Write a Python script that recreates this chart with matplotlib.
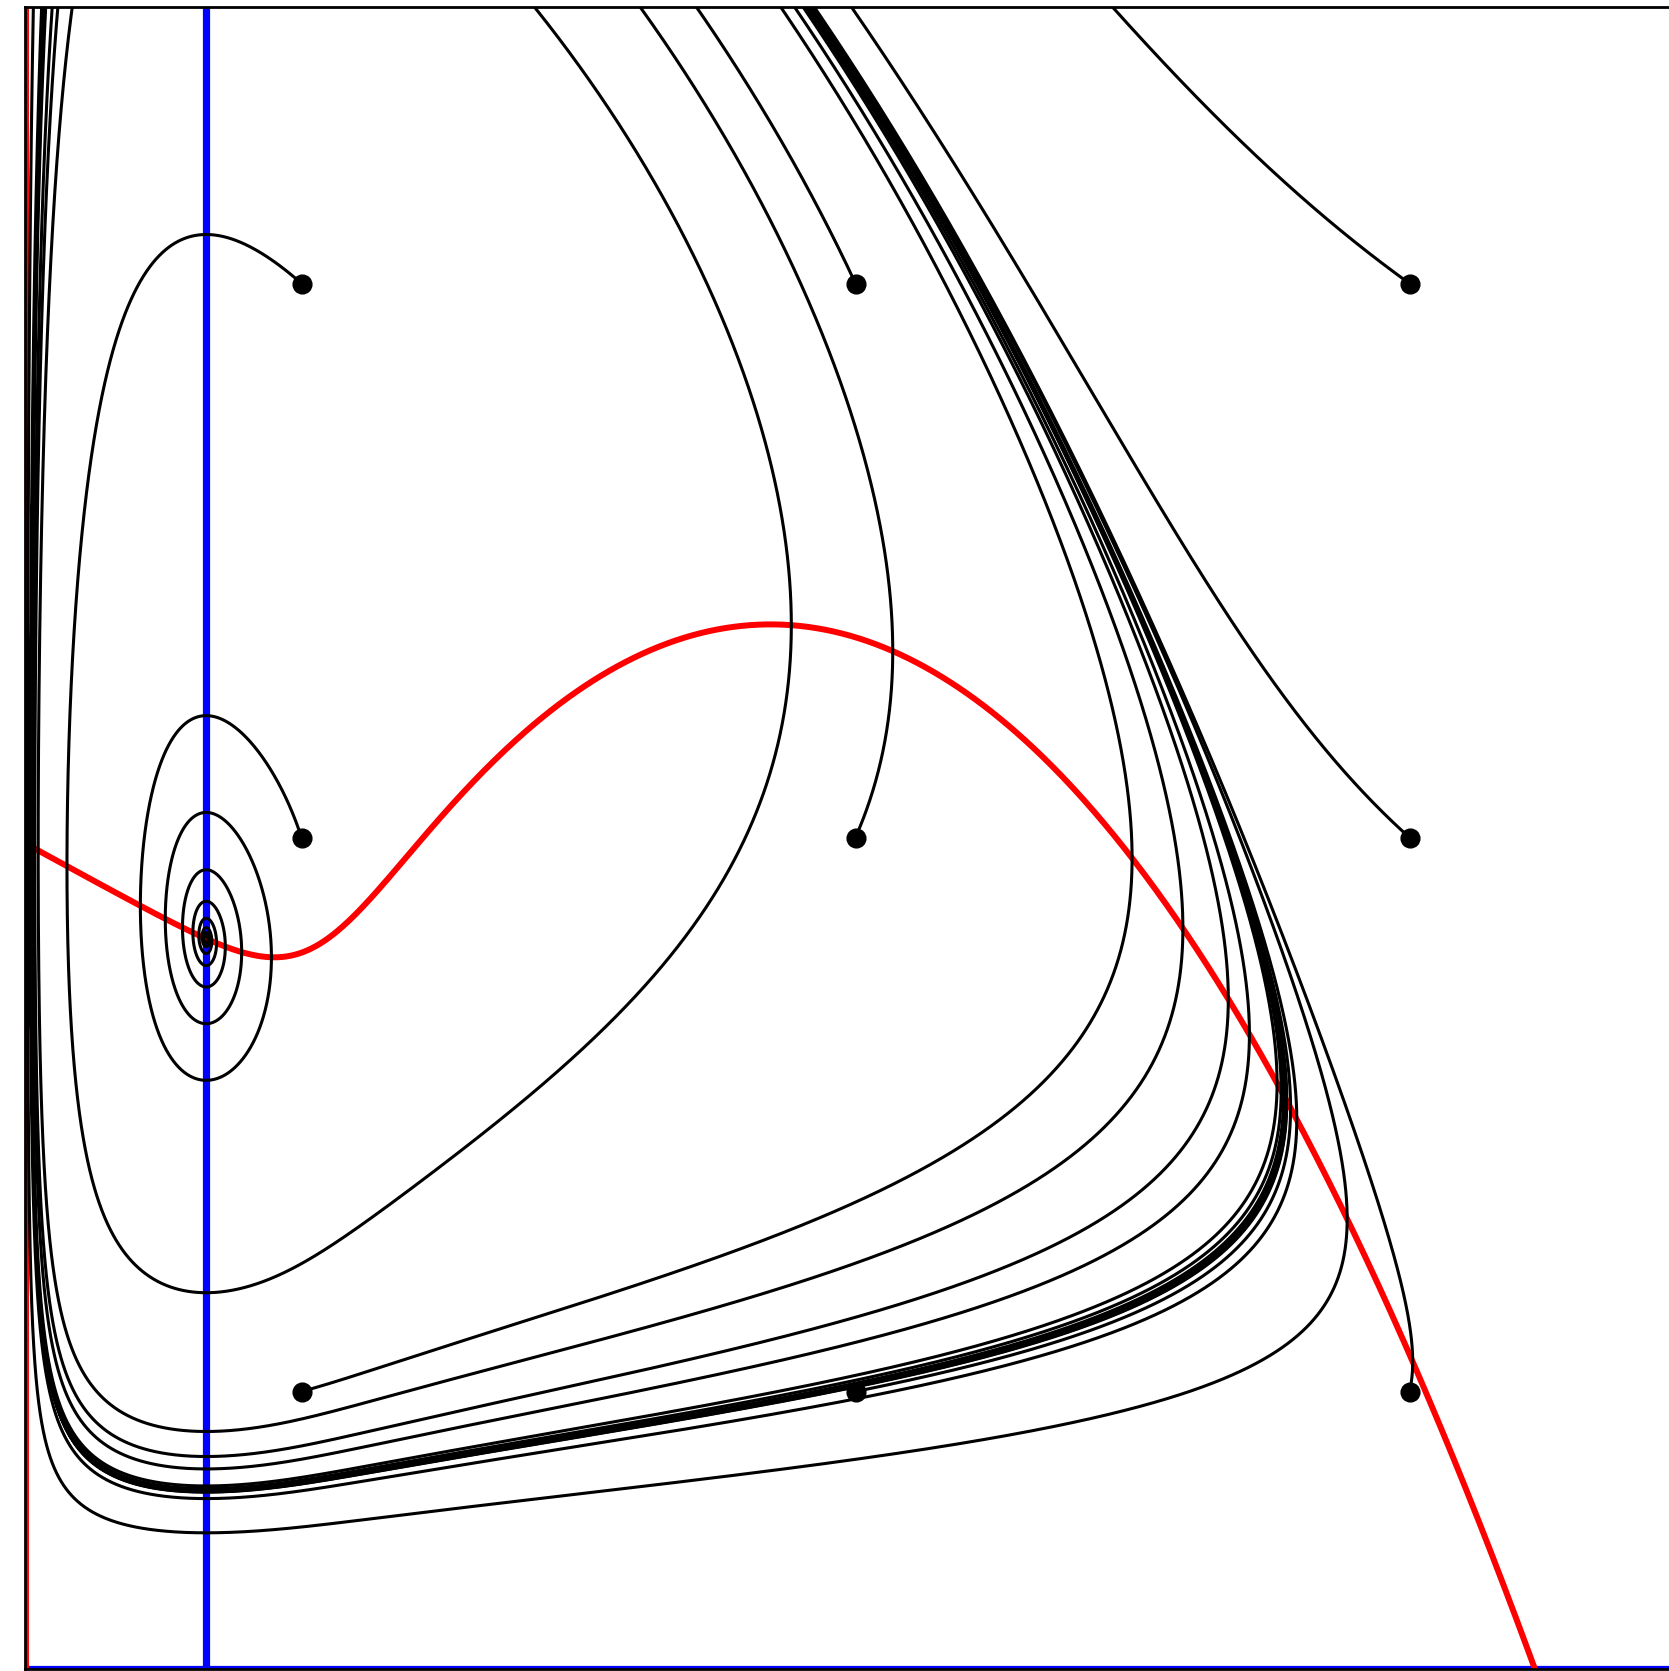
import numpy as np
import matplotlib
matplotlib.use("Agg")
import matplotlib.pyplot as plt

# ---- values ----
# prey nullcline (red): y = (1 - x/K) * q(x); q is flat near q0 and then rises with slope q_slope
K_capacity = 2.726
q0 = 1.49
q_slope = 2.7
q_knee = 0.519
q_soft = 0.062
# predator nullcline (blue vertical line)
x_star = 0.328
# predator conversion rate (sets the trajectory slopes)
e_conv = 1.39

# starting points of the trajectories (black dots)
x_start = [0.5, 1.5, 2.5]
y_start = [0.5, 1.5, 2.5]
t_end = 90.0

x_lim = (0, 3)
y_lim = (0, 3)


def q(x):
    z = (x - q_knee) / q_soft
    return q0 + q_slope * q_soft * np.logaddexp(0.0, z)


def g(x):
    return (1 - x / K_capacity) * q(x)


def p(x):
    return x / q(x)


p_star = p(x_star)


def rhs(u, v):
    x = np.exp(u)
    y = np.exp(v)
    du = (g(x) - y) / q(x)
    dv = e_conv * (p(x) - p_star)
    return du, dv


X0, Y0 = np.meshgrid(x_start, y_start)
X0 = X0.ravel()
Y0 = Y0.ravel()

dt = 0.005
n = int(t_end / dt)
u = np.log(X0)
v = np.log(Y0)
U = np.empty((n + 1, u.size))
V = np.empty((n + 1, u.size))
U[0] = u
V[0] = v
for i in range(n):
    k1u, k1v = rhs(u, v)
    k2u, k2v = rhs(u + 0.5 * dt * k1u, v + 0.5 * dt * k1v)
    k3u, k3v = rhs(u + 0.5 * dt * k2u, v + 0.5 * dt * k2v)
    k4u, k4v = rhs(u + dt * k3u, v + dt * k3v)
    u = u + dt / 6 * (k1u + 2 * k2u + 2 * k3u + k4u)
    v = v + dt / 6 * (k1v + 2 * k2v + 2 * k3v + k4v)
    U[i + 1] = u
    V[i + 1] = v
XT = np.exp(U)
YT = np.exp(V)

W, H = 1669, 1671
fig = plt.figure(figsize=(W / 100, H / 100), dpi=100)
unit = 554.0
ax = fig.add_axes([24.5 / W, 2.5 / H, 3 * unit / W, 3 * unit / H])
ax.set_xlim(*x_lim)
ax.set_ylim(*y_lim)
ax.set_xticks([])
ax.set_yticks([])
for s in ax.spines.values():
    s.set_linewidth(2)
    s.set_color("black")

# nullclines
ax.axvline(x_star, color="blue", lw=5.2, zorder=1)
ax.axhline(0, color="blue", lw=5.2, zorder=1)
xs = np.linspace(0, x_lim[1], 800)
ax.plot(xs, g(xs), color="red", lw=4.3, zorder=2)
ax.axvline(0, color="red", lw=5, zorder=2)

# trajectories
for j in range(XT.shape[1]):
    ax.plot(XT[:, j], YT[:, j], color="black", lw=2.2, zorder=3)
ax.plot(X0, Y0, "o", color="black", ms=13.5, zorder=4)

fig.savefig("out.png", dpi=100)
